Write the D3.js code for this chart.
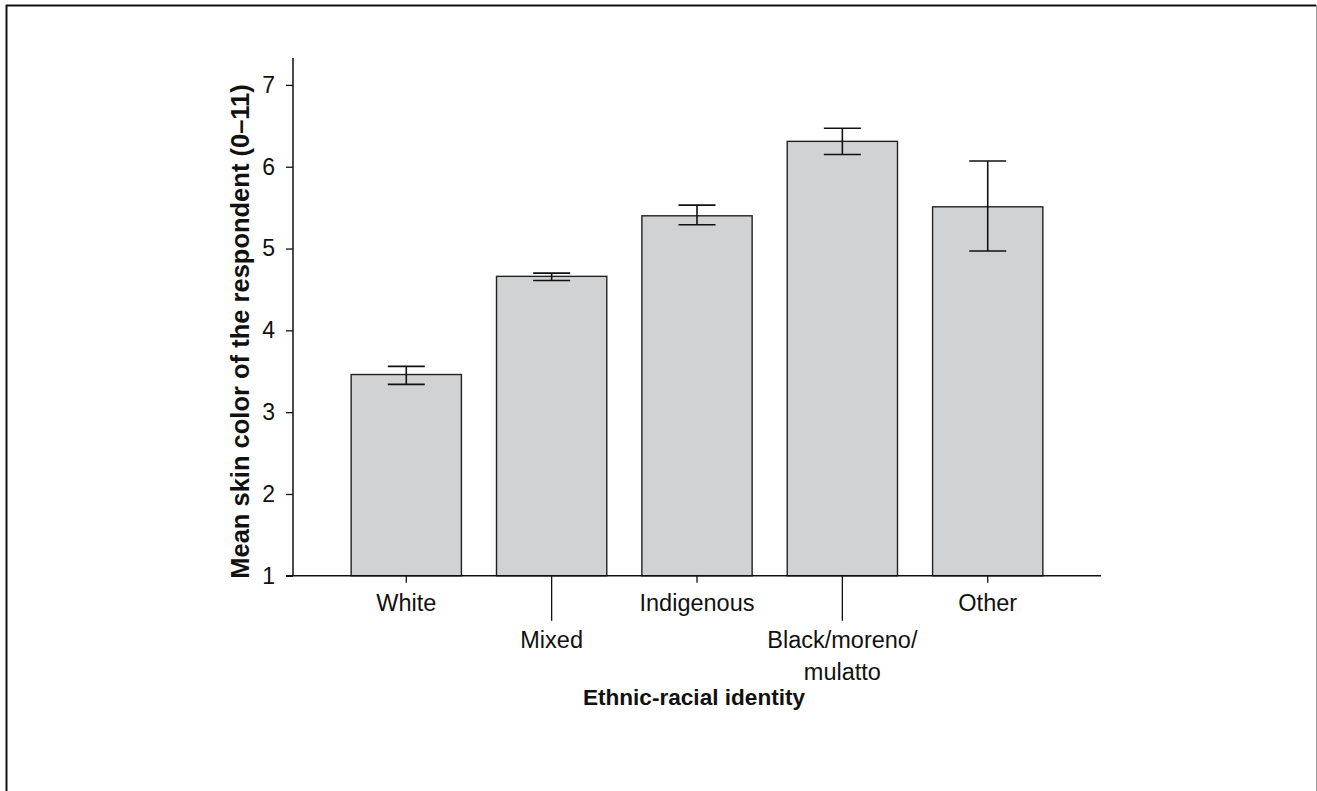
<!DOCTYPE html>
<html>
<head>
<meta charset="utf-8">
<script src="https://cdn.jsdelivr.net/npm/d3@7/dist/d3.min.js"></script>
<style>
  html, body { margin: 0; padding: 0; background: #fff; }
  svg { display: block; font-family: "Liberation Sans", Arial, Helvetica, sans-serif; }
</style>
</head>
<body>
<svg id="chart" width="1317" height="791"></svg>
<script>
// Mean skin color (0–11) by ethnic-racial identity, with error bars
const categories = ["White", "Mixed", "Indigenous", "Black/moreno/mulatto", "Other"];
const labelLines = [["White"], ["Mixed"], ["Indigenous"], ["Black/moreno/", "mulatto"], ["Other"]];
const means = [3.46, 4.66, 5.40, 6.31, 5.51];
const lower = [3.34, 4.61, 5.29, 6.15, 4.97];
const upper = [3.56, 4.70, 5.53, 6.47, 6.07];
const yTicks = [1, 2, 3, 4, 5, 6, 7];
const yDomain = [1, 7.33];
const yTitle = "Mean skin color of the respondent (0\u201311)";
const xTitle = "Ethnic-racial identity";

const svg = d3.select("#chart");

// frame around the figure (top and left heavy, right light)
svg.append("line").attr("x1", 6).attr("x2", 1316).attr("y1", 5.5).attr("y2", 5.5)
  .attr("stroke", "#111").attr("stroke-width", 2);
svg.append("line").attr("x1", 6.5).attr("x2", 6.5).attr("y1", 5).attr("y2", 791)
  .attr("stroke", "#111").attr("stroke-width", 2);
svg.append("line").attr("x1", 1316.5).attr("x2", 1316.5).attr("y1", 5).attr("y2", 791)
  .attr("stroke", "#999").attr("stroke-width", 1);

const plotLeft = 293, plotRight = 1101, plotBottom = 575.8, plotTop = 57.9;

const x = d3.scaleBand()
  .domain(categories)
  .range([plotLeft, plotRight])
  .paddingInner(35 / 145)
  .paddingOuter(0.4);

const y = d3.scaleLinear().domain(yDomain).range([plotBottom, plotTop]);

const tickFont = 23;
const catFont = 23.5;

// bars
svg.append("g").selectAll("rect")
  .data(categories)
  .join("rect")
  .attr("x", d => x(d))
  .attr("width", x.bandwidth())
  .attr("y", (d, i) => y(means[i]))
  .attr("height", (d, i) => y(yDomain[0]) - y(means[i]))
  .attr("fill", "#d1d2d4")
  .attr("stroke", "#222")
  .attr("stroke-width", 1.4);

// error bars
const capW = 37;
const eg = svg.append("g").attr("stroke", "#111").attr("stroke-width", 1.6);
categories.forEach((c, i) => {
  const cx = x(c) + x.bandwidth() / 2;
  eg.append("line").attr("x1", cx).attr("x2", cx).attr("y1", y(lower[i])).attr("y2", y(upper[i]));
  eg.append("line").attr("x1", cx - capW / 2).attr("x2", cx + capW / 2).attr("y1", y(upper[i])).attr("y2", y(upper[i]));
  eg.append("line").attr("x1", cx - capW / 2).attr("x2", cx + capW / 2).attr("y1", y(lower[i])).attr("y2", y(lower[i]));
});

// y axis
const yAxis = d3.axisLeft(y).tickValues(yTicks).tickSize(7).tickPadding(11).tickFormat(d3.format("d"));
const yg = svg.append("g").attr("transform", `translate(${plotLeft},0)`).call(yAxis);
yg.select(".domain").attr("d", `M0,${plotTop}V${plotBottom}`).attr("stroke", "#111").attr("stroke-width", 1.5);
yg.selectAll(".tick line").attr("stroke", "#111").attr("stroke-width", 1.3);
yg.selectAll(".tick text").attr("font-size", tickFont).attr("fill", "#111")
  .attr("font-family", "Liberation Sans, Arial, sans-serif");

// x axis baseline (extends to the left tick)
svg.append("line").attr("x1", plotLeft - 7).attr("x2", plotRight).attr("y1", plotBottom).attr("y2", plotBottom)
  .attr("stroke", "#111").attr("stroke-width", 1.5);

// staggered category ticks and labels
const xg = svg.append("g");
categories.forEach((c, i) => {
  const cx = x(c) + x.bandwidth() / 2;
  const staggered = i % 2 === 1;
  xg.append("line").attr("x1", cx).attr("x2", cx)
    .attr("y1", plotBottom).attr("y2", plotBottom + (staggered ? 45 : 7))
    .attr("stroke", "#111").attr("stroke-width", 1.3);
  const baseY = staggered ? 648 : 611;
  labelLines[i].forEach((line, k) => {
    xg.append("text").attr("x", cx).attr("y", baseY + k * 32)
      .attr("text-anchor", "middle").attr("font-size", catFont).attr("fill", "#111")
      .text(line);
  });
});

// axis titles
svg.append("text")
  .attr("transform", `translate(249,${(83 + 580) / 2}) rotate(-90)`)
  .attr("text-anchor", "middle").attr("font-size", 25.5).attr("font-weight", "bold").attr("fill", "#111")
  .text(yTitle);

svg.append("text")
  .attr("x", 694).attr("y", 705)
  .attr("text-anchor", "middle").attr("font-size", 22.6).attr("font-weight", "bold").attr("fill", "#111")
  .text(xTitle);
</script>
</body>
</html>
